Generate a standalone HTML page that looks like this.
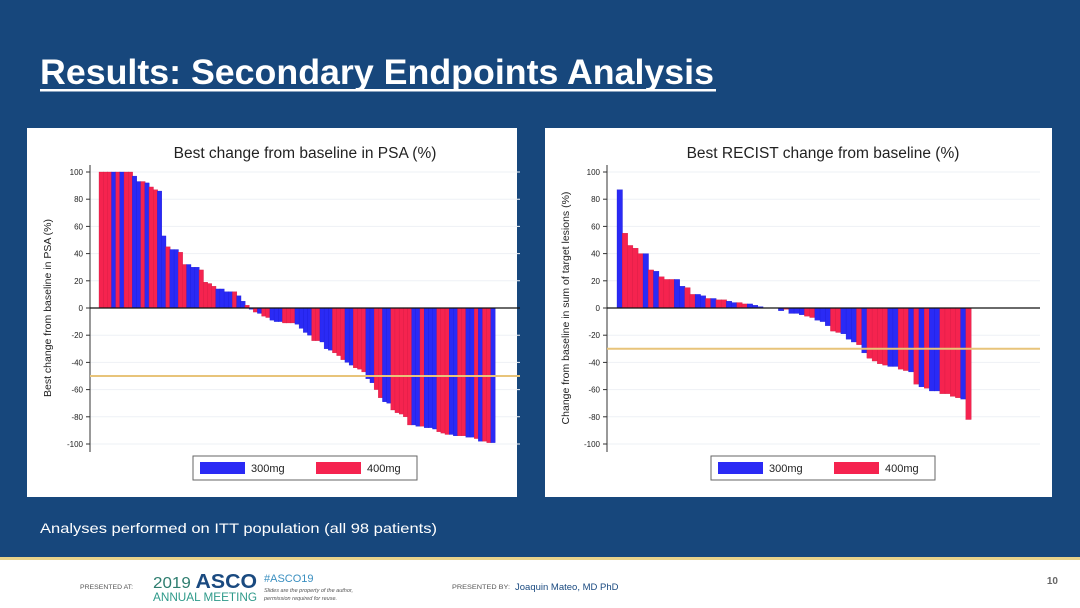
<!DOCTYPE html>
<html><head><meta charset="utf-8"><style>
body{margin:0;width:1080px;height:608px;overflow:hidden;background:#17477c;font-family:"Liberation Sans",sans-serif}
svg{display:block}
</style></head><body>
<svg id="s" width="1080" height="608" xmlns="http://www.w3.org/2000/svg">
<rect x="0" y="0" width="1080" height="608" fill="#17477c"/>
<text x="40" y="84" fill="#fff" font-family="Liberation Sans,sans-serif" font-weight="bold" font-size="35" textLength="674" lengthAdjust="spacingAndGlyphs">Results: Secondary Endpoints Analysis</text>
<rect x="40" y="89" width="676" height="2.5" fill="#fff"/>
<rect x="27" y="128" width="490" height="369" fill="#fff"/>
<rect x="545" y="128" width="507" height="369" fill="#fff"/>
<text x="40" y="533" fill="#fff" font-size="14" textLength="397" lengthAdjust="spacingAndGlyphs">Analyses performed on ITT population (all 98 patients)</text>
<rect x="0" y="557" width="1080" height="51" fill="#fff"/>
<rect x="0" y="557" width="1080" height="3" fill="#e8d28a"/>
<text x="80" y="589" fill="#555" font-size="6.5" textLength="53" lengthAdjust="spacingAndGlyphs">PRESENTED AT:</text>
<text x="153" y="588" fill="#1a4a80" font-size="20" font-weight="bold" textLength="104" lengthAdjust="spacingAndGlyphs"><tspan fill="#2e7d6f" font-weight="normal" font-size="16">2019 </tspan>ASCO</text>
<text x="153" y="601" fill="#2e9a8a" font-size="11.5" textLength="104" lengthAdjust="spacingAndGlyphs">ANNUAL MEETING</text>
<text x="264" y="582" fill="#3a8fc0" font-size="11">#ASCO19</text>
<text x="264" y="592" fill="#555" font-size="5.5" font-style="italic">Slides are the property of the author,</text>
<text x="264" y="600" fill="#555" font-size="5.5" font-style="italic">permission required for reuse.</text>
<text x="452" y="589" fill="#555" font-size="6.5" textLength="58" lengthAdjust="spacingAndGlyphs">PRESENTED BY:</text>
<text x="515" y="590" fill="#1a4a80" font-size="9.5">Joaquin Mateo, MD PhD</text>
<text x="1058" y="584" fill="#666" font-size="10" text-anchor="end" font-weight="bold">10</text>
<g id="g1"></g><g id="g2"></g>
</svg>
<script>
const yTicks=[100,80,60,40,20,0,-20,-40,-60,-80,-100];
const psaValues=[100,100,100,100,100,100,100,100,97,93,93,92,89,87,86,53,45,43,43,41,32,32,30,30,28,19,18,16,14,14,12,12,12,9,5,2,-1,-3,-4,-6,-7,-9,-10,-10,-11,-11,-11,-12,-15,-18,-20,-24,-24,-25,-30,-31,-33,-35,-38,-40,-42,-44,-45,-47,-52,-55,-60,-66,-69,-70,-75,-77,-78,-80,-86,-86,-87,-87,-88,-88,-89,-91,-92,-93,-93,-94,-94,-94,-95,-95,-96,-98,-98,-99,-99];
const psaDose="RRRBRBRRBBRBRRBBRBBRRBBBRRRRBBBBRBBRBRBRRBBBRRRBBBBRRBBBRRRBBRRRBBRRBBRRRRRBBRBBBRRRBBRRBBRBRRB";
const recistValues=[87,55,46,44,40,40,28,27,23,21,21,21,16,15,10,10,9,7,7,6,6,5,4,4,3,3,2,1,0,0,0,-2,-1,-4,-4,-5,-6,-7,-9,-10,-13,-17,-18,-19,-23,-25,-27,-33,-37,-39,-41,-42,-43,-43,-45,-46,-47,-56,-58,-59,-61,-61,-63,-63,-65,-66,-67,-82];
const recistDose="BRRRRBRBRRRBBRRBBRBRRBBRRBBBBBBBRBBBRRBBBRRBBBRBRRRRBBRRBRBRBBRRRRB";
const NS="http://www.w3.org/2000/svg";
function mk(t,a,p){const e=document.createElementNS(NS,t);for(const k in a)e.setAttribute(k,a[k]);p.appendChild(e);return e;}
function chart(g,o,vals,dose){
  const y=v=>308-v*1.36;
  const tt=mk('text',{x:o.tx,y:158,'font-size':15.5,fill:'#222','text-anchor':'middle'},g);tt.textContent=o.title;
  
  
  yTicks.forEach(t=>{
    if(t!==0){const gl=mk('line',{x1:o.ax,x2:o.end,y1:y(t),y2:y(t),stroke:'#eef1f5','stroke-width':1},g);
    
    }
    const tk=mk('line',{x1:o.ax-4,x2:o.ax,y1:y(t),y2:y(t),stroke:'#333'},g);
    
    
    const l=mk('text',{x:o.ax-7,y:y(t)+3,'font-size':8,fill:'#222','text-anchor':'end'},g);l.textContent=t;
    
    
  });
  const ax=mk('line',{x1:o.ax,x2:o.ax,y1:165,y2:452,stroke:'#333'},g);
  
  
  const bw=(o.x1-o.x0)/vals.length;
  vals.forEach((v,i)=>{
    const top=Math.min(y(v),y(0)),h=Math.abs(y(v)-y(0));
    const b=mk('rect',{x:o.x0+i*bw,y:top,width:bw+0.3,height:h,fill:dose[i]==='B'?'#2a2af5':'#f5234f',stroke:dose[i]==='B'?'#1a1ad0':'#c81a40','stroke-width':0.3},g);
    
    
  });
  const z=mk('line',{x1:o.ax,x2:o.end,y1:y(0),y2:y(0),stroke:'#111','stroke-width':1.2},g);
  
  
  const th=mk('line',{x1:o.ax,x2:o.thEnd,y1:y(o.th),y2:y(o.th),stroke:'#e8c47a','stroke-width':2},g);
  
  
  const yl=mk('text',{x:0,y:0,'font-size':10.5,fill:'#222','text-anchor':'middle',transform:`translate(${o.lx},${o.ly}) rotate(-90)`},g);yl.textContent=o.ylabel;
  
  
  const lg=mk('rect',{x:o.lg,y:456,width:224,height:24,fill:'#fff',stroke:'#666'},g);
  
  
  [['300mg','#2a2af5',0],['400mg','#f5234f',116]].forEach(([n,c,dx])=>{
    const s=mk('rect',{x:o.lg+7+dx,y:462,width:45,height:12,fill:c},g);
    
    
    const t=mk('text',{x:o.lg+58+dx,y:472,'font-size':11,fill:'#222'},g);t.textContent=n;
    
    
  });
}
chart(document.getElementById('g1'),{title:'Best change from baseline in PSA (%)',tx:305,ax:90,end:520,x0:99,x1:495,th:-50,thEnd:520,lx:51,ly:308,ylabel:'Best change from baseline in PSA (%)',lg:193},psaValues,psaDose);
chart(document.getElementById('g2'),{title:'Best RECIST change from baseline (%)',tx:823,ax:607,end:1040,x0:617,x1:971,th:-30,thEnd:1040,lx:569,ly:308,ylabel:'Change from baseline in sum of target lesions (%)',lg:711},recistValues,recistDose);
</script>
</body></html>
